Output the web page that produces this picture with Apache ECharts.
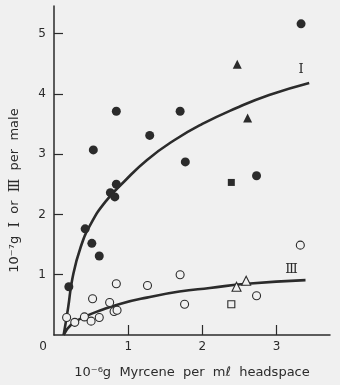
<!DOCTYPE html>
<html>
<head>
<meta charset="utf-8">
<script src="https://cdn.jsdelivr.net/npm/echarts@6/dist/echarts.min.js"></script>
<style>
  html, body { margin: 0; padding: 0; background: #f0f0f0; }
  #chart { width: 340px; height: 385px; }
</style>
</head>
<body>
<div id="chart"></div>
<script>
// Pheromone I and III yields against myrcene concentration in headspace
const xTicks = [1, 2, 3];
const yTicks = [1, 2, 3, 4, 5];

// compound I (filled symbols)
const iCircles = [[0.20, 0.80], [0.42, 1.76], [0.51, 1.52], [0.61, 1.31], [0.53, 3.07],
  [0.76, 2.36], [0.82, 2.29], [0.84, 2.50], [0.84, 3.71], [1.29, 3.31], [1.70, 3.71],
  [1.77, 2.87], [2.73, 2.64], [3.33, 5.16]];
const iTriangles = [[2.47, 4.49], [2.61, 3.60]];
const iSquares = [[2.39, 2.53]];

// compound III (open symbols)
const iiiCircles = [[0.17, 0.29], [0.28, 0.21], [0.41, 0.30], [0.50, 0.23], [0.61, 0.29],
  [0.52, 0.60], [0.75, 0.54], [0.81, 0.39], [0.85, 0.41], [0.84, 0.85], [1.26, 0.82],
  [1.70, 1.00], [1.76, 0.51], [2.73, 0.65], [3.32, 1.49]];
const iiiTriangles = [[2.46, 0.80], [2.59, 0.90]];
const iiiSquares = [[2.39, 0.51]];

// fitted curves
const curveI = [[0.13, 0.0], [0.19, 0.45], [0.25, 0.95], [0.36, 1.46], [0.50, 1.85],
  [0.70, 2.22], [0.95, 2.55], [1.25, 2.90], [1.62, 3.23], [2.0, 3.50],
  [2.45, 3.76], [2.9, 3.98], [3.44, 4.18]];
const curveIII = [[0.13, 0.0], [0.23, 0.17], [0.41, 0.30], [0.63, 0.41], [0.90, 0.52],
  [1.25, 0.62], [1.69, 0.72], [2.1, 0.78], [2.6, 0.85], [3.39, 0.91]];

// curve name positions
const labelI = [3.33, 4.40];
const labelIII = [3.20, 1.09];

const ink = '#2b2b2b';
const bg = '#f0f0f0';
const sans = 'DejaVu Sans';
const serif = 'DejaVu Serif';

const chart = echarts.init(document.getElementById('chart'), null, { renderer: 'canvas' });

function filled(data, symbol, size) {
  return { type: 'scatter', data, symbol, symbolSize: size, z: 5,
    itemStyle: { color: ink, opacity: 1 }, emphasis: { disabled: true } };
}
function hollow(data, symbol, size) {
  return { type: 'scatter', data, symbol, symbolSize: size, z: 6,
    itemStyle: { color: bg, borderColor: ink, borderWidth: 1.1, opacity: 1 }, emphasis: { disabled: true } };
}
function curve(data, label, at) {
  return { type: 'line', data, smooth: 0.5, showSymbol: false, z: 3,
    lineStyle: { color: ink, width: 2.6 },
    markPoint: { symbol: 'circle', symbolSize: 1, silent: true,
      itemStyle: { color: 'rgba(0,0,0,0)' },
      data: [{ coord: at, value: 0 }],
      label: { show: true, formatter: label, color: ink, fontFamily: serif, fontSize: 13,
        position: 'inside' } } };
}

const romanRich = { r: { fontFamily: serif, fontSize: 14, color: ink } };

chart.setOption({
  backgroundColor: bg,
  animation: false,
  grid: { left: 51, right: 10, top: 6, bottom: 50 },
  xAxis: {
    type: 'value', min: 0, max: 3.72,
    name: '10⁻⁶g  Myrcene  per  mℓ  headspace',
    nameLocation: 'middle', nameGap: 31,
    nameTextStyle: { color: ink, fontFamily: sans, fontSize: 13 },
    axisLine: { lineStyle: { color: ink, width: 1.5 } },
    axisTick: { inside: true, length: 10, customValues: xTicks, lineStyle: { color: ink, width: 1.2 } },
    axisLabel: {
      customValues: [0].concat(xTicks), margin: 6, color: ink, fontFamily: sans, fontSize: 12,
      formatter: v => v === 0 ? '{z|0}' : String(v),
      rich: { z: { padding: [0, 22, 0, 0], color: ink, fontFamily: sans, fontSize: 12 } }
    },
    splitLine: { show: false }
  },
  yAxis: {
    type: 'value', min: 0, max: 5.456, offset: 2,
    name: '10⁻⁷g  {r|Ⅰ}  or  {r|Ⅲ}  per  male',
    nameLocation: 'middle', nameGap: 30, nameRotate: 90,
    nameTextStyle: { color: ink, fontFamily: sans, fontSize: 13, padding: [0, 40, 0, 0], rich: romanRich },
    axisLine: { lineStyle: { color: ink, width: 1.5 } },
    axisTick: { inside: true, length: 9, customValues: yTicks, lineStyle: { color: ink, width: 1.2 } },
    axisLabel: { customValues: yTicks, margin: 6, color: ink, fontFamily: sans, fontSize: 12 },
    splitLine: { show: false }
  },
  series: [
    curve(curveI, 'Ⅰ', labelI),
    curve(curveIII, 'Ⅲ', labelIII),
    filled(iCircles, 'circle', 9),
    filled(iTriangles, 'triangle', 9),
    filled(iSquares, 'rect', 7),
    hollow(iiiCircles, 'circle', 8),
    hollow(iiiTriangles, 'triangle', 9),
    hollow(iiiSquares, 'rect', 7)
  ]
});
</script>
</body>
</html>
